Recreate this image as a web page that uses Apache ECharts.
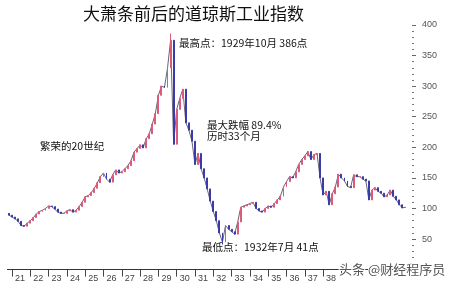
<!DOCTYPE html>
<html>
<head>
<meta charset="utf-8">
<script src="https://cdn.jsdelivr.net/npm/echarts@6/dist/echarts.min.js"></script>
<style>
html,body{margin:0;padding:0;background:#fff;}
#chart{width:453px;height:291px;}
</style>
</head>
<body>
<div id="chart"></div>
<script>
// Bi-monthly periods, starting 1920-11, ending 1942-07
var startYear = 1920, startMonth = 11, endYear = 1942, endMonth = 7;

// DJIA closes per bi-monthly period
var closes = [
  89,                              // 1920 Nov
  86, 83, 79, 72, 71, 76,          // 1921
  80, 85, 91, 95, 97, 100,         // 1922
  104, 103, 99, 94, 92, 92,        // 1923
  96, 98, 94, 97, 103, 110,        // 1924
  119, 121, 126, 133, 142, 152,    // 1925
  158, 148, 143, 155, 163, 158,    // 1926
  160, 165, 170, 178, 192, 198,    // 1927
  204, 199, 214, 222, 238, 255,    // 1928
  285, 300, 298, 330, 375, 205,    // 1929
  262, 280, 295, 240, 228, 210,    // 1930
  172, 190, 165, 150, 132, 112,    // 1931
  95, 80, 60, 45, 72, 66,          // 1932
  62, 58, 78, 102, 104, 106,       // 1933
  108, 110, 100, 96, 94, 100,      // 1934
  104, 102, 108, 114, 120, 135,    // 1935
  144, 152, 150, 160, 172, 180,    // 1936
  186, 193, 180, 188, 190, 150,    // 1937
  122, 128, 106, 124, 135, 156,    // 1938
  150, 145, 136, 134, 155, 152,    // 1939
  152, 148, 145, 114, 130, 134,    // 1940
  128, 125, 119, 122, 130, 120,    // 1941
  114, 106, 101, 102               // 1942
];
var firstOpen = 92;
var peakPeriod = '1929-09', peakValue = 386;
var troughPeriod = '1932-07', troughValue = 41;

var yTicks = [50, 100, 150, 200, 250, 300, 350, 400];

var titleText = '大萧条前后的道琼斯工业指数';
var notePeak = '最高点：1929年10月 386点';
var noteDrop1 = '最大跌幅 89.4%';
var noteDrop2 = '历时33个月';
var noteBoom = '繁荣的20世纪';
var noteLow = '最低点：1932年7月 41点';
var watermark = '头条 @财经程序员';

// build categories
var periods = [];
var y = startYear, m = startMonth;
while (y < endYear || (y === endYear && m <= endMonth)) {
  periods.push(y + '-' + (m < 10 ? '0' + m : m));
  m += 2; if (m > 12) { m -= 12; y += 1; }
}

var candles = closes.map(function (c, i) {
  var o = i === 0 ? firstOpen : closes[i - 1];
  var lo = Math.min(o, c), hi = Math.max(o, c);
  if (periods[i] === peakPeriod) hi = peakValue;
  if (periods[i] === troughPeriod) lo = troughValue;
  return [o, c, lo, hi];
});

var isYearStart = function (idx, val) { return /-01$/.test(val); };
var cjk = '"Noto Sans CJK SC", "Noto Sans", sans-serif';

var chart = echarts.init(document.getElementById('chart'), null, {renderer: 'canvas'});
chart.setOption({
  animation: false,
  backgroundColor: '#ffffff',
  grid: {left: 7.4, right: 46, top: 25, bottom: 21.4, containLabel: false},
  xAxis: {
    type: 'category',
    data: periods,
    boundaryGap: true,
    offset: 2,
    axisLine: {show: true, lineStyle: {color: '#333', width: 1}},
    axisTick: {show: true, interval: isYearStart, alignWithLabel: true, length: 7, lineStyle: {color: '#444'}},
    axisLabel: {
      interval: isYearStart,
      formatter: function (v) { return v.slice(2, 4); },
      align: 'left', padding: [0, 0, 0, 3], margin: 2,
      fontSize: 9, color: '#444', fontFamily: 'Liberation Sans, Arial, sans-serif'
    },
    splitLine: {show: false}
  },
  yAxis: {
    type: 'value',
    position: 'right',
    offset: 5,
    min: 0, max: 400, interval: 50,
    axisLine: {show: false},
    axisTick: {show: true, length: 4, lineStyle: {color: '#666'}},
    minorTick: {show: true, splitNumber: 5, length: 2, lineStyle: {color: '#777'}},
    splitLine: {show: false},
    axisLabel: {
      margin: 10, fontSize: 9, color: '#555', fontFamily: 'Liberation Sans, Arial, sans-serif',
      formatter: function (v) { return yTicks.indexOf(v) >= 0 ? String(v) : ''; }
    }
  },
  series: [
    {
      type: 'line',
      data: closes,
      symbol: 'none',
      lineStyle: {color: '#2a2040', width: 1, opacity: 0.7},
      z: 1
    },
    {
      type: 'candlestick',
      data: candles,
      barWidth: 1.4,
      itemStyle: {
        color: '#dd5a7a', color0: '#3a3aa8',
        borderColor: '#dd5a7a', borderColor0: '#3a3aa8', borderWidth: 1
      },
      z: 2
    }
  ],
  graphic: [
    {type: 'text', left: 83, top: 5, style: {text: titleText, font: 'normal 17px ' + cjk, fill: '#111'}},
    {type: 'text', left: 179, top: 38, style: {text: notePeak, font: 'normal 10.5px ' + cjk, fill: '#111'}},
    {type: 'text', left: 207, top: 120, style: {text: noteDrop1, font: 'normal 10.5px ' + cjk, fill: '#111'}},
    {type: 'text', left: 207, top: 131, style: {text: noteDrop2, font: 'normal 10.5px ' + cjk, fill: '#111'}},
    {type: 'text', left: 40, top: 141, style: {text: noteBoom, font: 'normal 10.5px ' + cjk, fill: '#111'}},
    {type: 'text', left: 202, top: 242, style: {text: noteLow, font: 'normal 10.5px ' + cjk, fill: '#111'}},
    {type: 'rect', left: 338, top: 274, shape: {width: 112, height: 15}, style: {fill: '#fff'}, z: 50},
    {type: 'text', left: 338, top: 262, z: 51, style: {text: watermark, font: 'normal 13px ' + cjk, fill: '#555', stroke: '#fff', lineWidth: 2}}
  ]
});
</script>
</body>
</html>
